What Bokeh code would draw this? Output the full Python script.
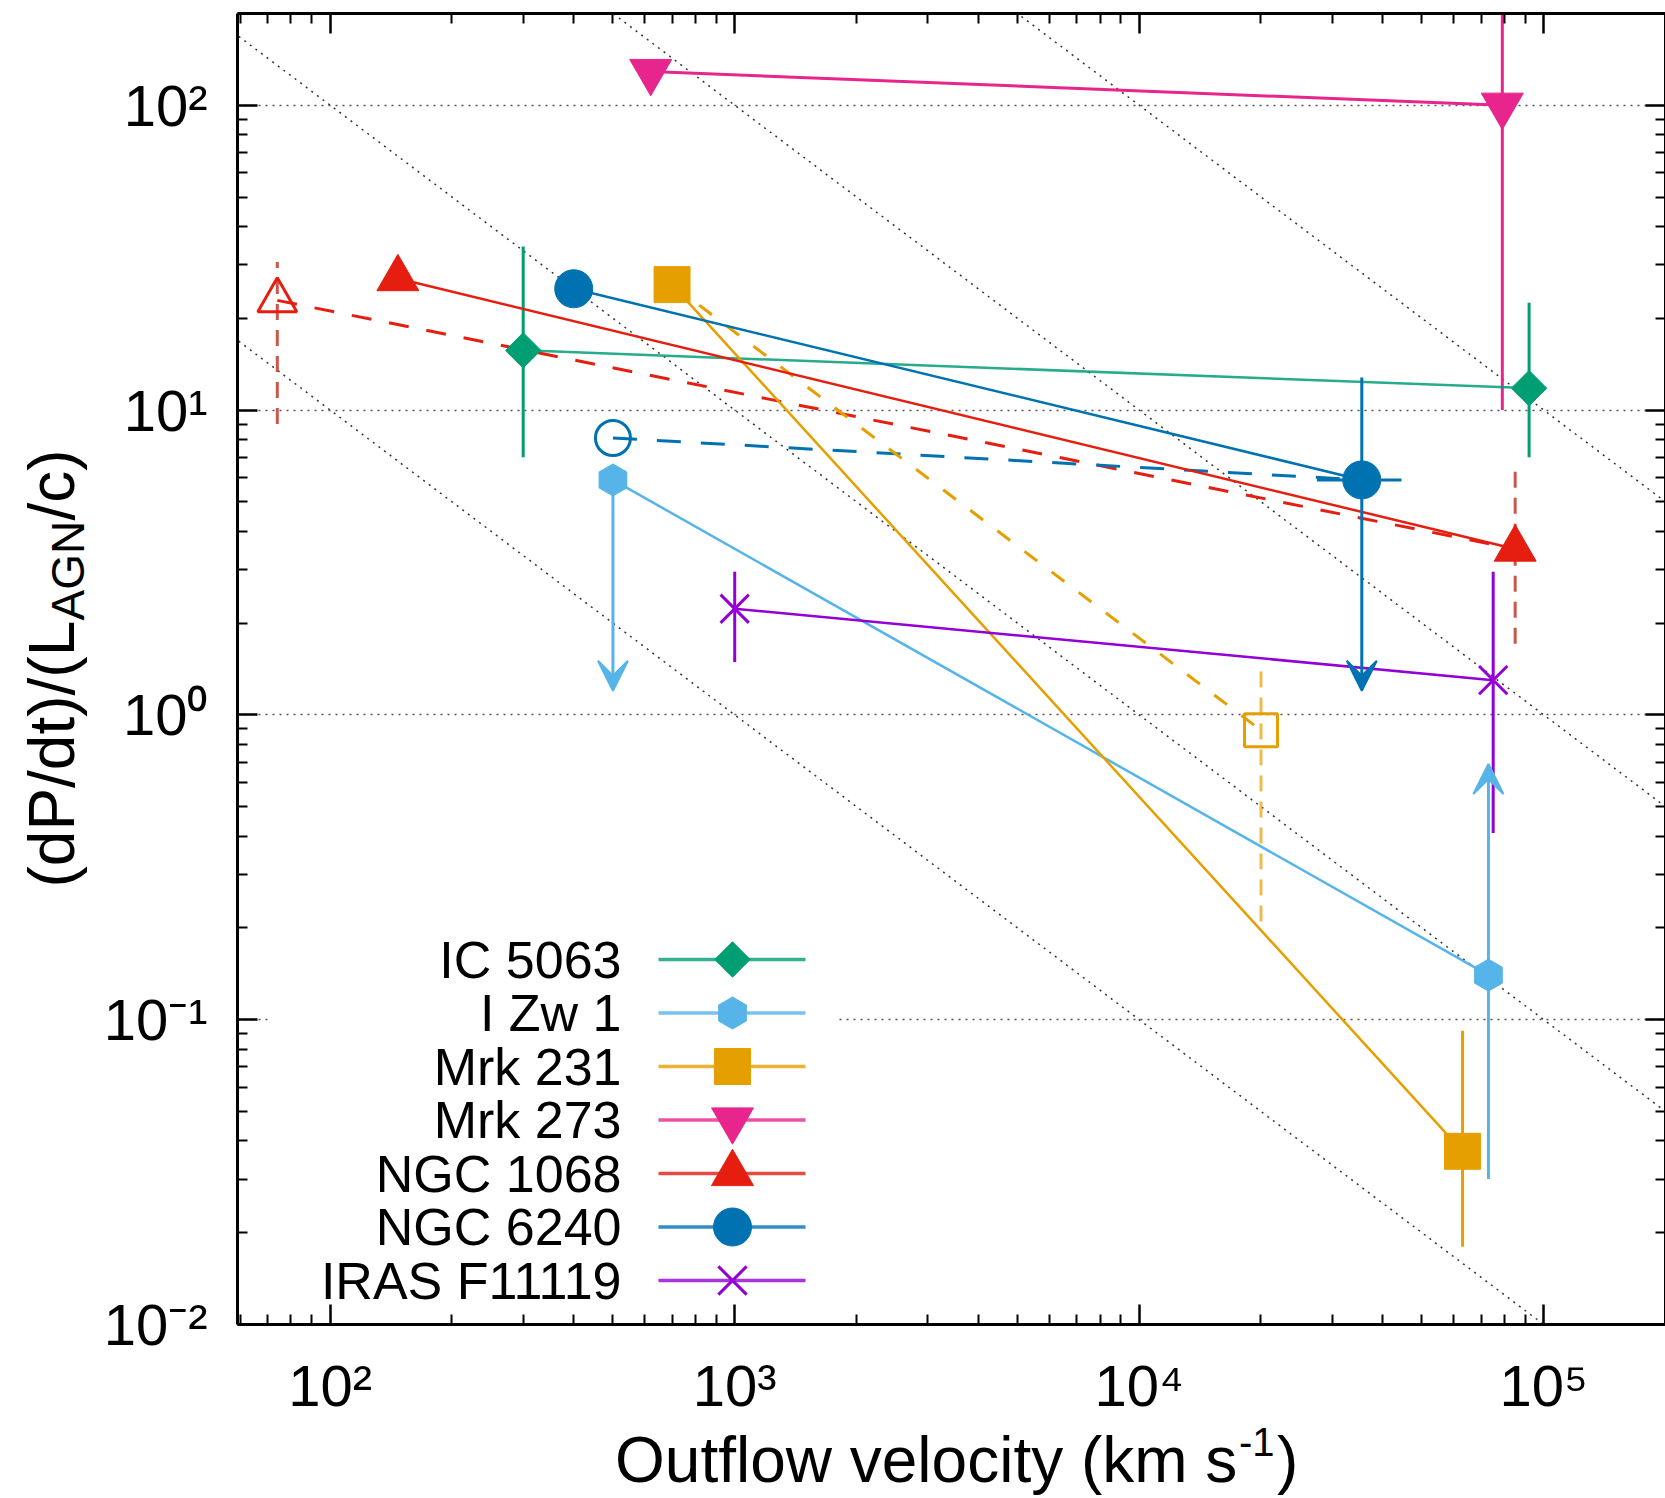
import numpy as np
from bokeh.plotting import figure
from bokeh.layouts import row, column
from bokeh.models import LogAxis, FixedTicker, Arrow, VeeHead, Range1d, Label
from bokeh.core.properties import value
from bokeh.embed import file_html
from bokeh.resources import INLINE

FONT = "Liberation Sans"

# ---------------------------------------------------------------- data
names = ["IC 5063", "I Zw 1", "Mrk 231", "Mrk 273", "NGC 1068", "NGC 6240", "IRAS F11119"]
colors = ["#009e73", "#56b4e9", "#e69f00", "#e8258c", "#e51e10", "#0072b2", "#9400d3"]
markers = ["diamond", "pentagon", "square", "inverted_triangle", "triangle", "circle", "x"]

# IC 5063
ic5063_v = [300, 92000]
ic5063_p = [15.7, 11.8]
ic5063_lo = [7.0, 7.0]
ic5063_hi = [34.4, 22.5]

# I Zw 1 (first point: upper limit, second point: lower limit)
izw1_v = [500, 73000]
izw1_p = [5.9, 0.14]
izw1_limit = [1.2, 0.69]
izw1_lo = [5.9, 0.030]

# Mrk 231
mrk231_v = [700, 63000]
mrk231_p = [25.8, 0.037]
mrk231_lo = [0.018]
mrk231_hi = [0.092]
mrk231_alt_v = [700, 20000]
mrk231_alt_p = [25.8, 0.89]
mrk231_alt_lo = [0.21]
mrk231_alt_hi = [1.41]

# Mrk 273
mrk273_v = [620, 79000]
mrk273_p = [129, 100]
mrk273_lo = [10.0]
mrk273_hi = [1000.0]

# NGC 1068
ngc1068_v = [147, 85000]
ngc1068_p = [27.0, 3.5]
ngc1068_alt_v = [74, 85000]
ngc1068_alt_p = [22.9, 3.5]
ngc1068_alt_lo = [9.0, 1.71]
ngc1068_alt_hi = [30.6, 6.7]

# NGC 6240
ngc6240_v = [400, 35500]
ngc6240_p = [25.0, 5.9]
ngc6240_hi = [12.8]
ngc6240_limit = [1.2]
ngc6240_vlo = [27500]
ngc6240_vhi = [44500]
ngc6240_alt_v = [500, 35500]
ngc6240_alt_p = [8.1, 5.9]

# IRAS F11119
iras_v = [1000, 75000]
iras_p = [2.23, 1.30]
iras_lo = [1.49, 0.41]
iras_hi = [2.95, 2.95]

# reference lines of constant (dP/dt)/(L/c) * v
line_levels = [1e3, 1e4, 1e5, 1e6]

# axes
x_major = [1e2, 1e3, 1e4, 1e5]
x_labels = ["10²", "10³", "10⁴", "10⁵"]
y_major = [1e-2, 1e-1, 1e0, 1e1, 1e2]
y_labels = ["10⁻²", "10⁻¹", "10⁰", "10¹", "10²"]

x_title = ["Outflow velocity (km s", "-1", ")"]
y_title = ["(dP/dt)/(L", "AGN", "/c)"]

# ---------------------------------------------------------------- layout (page pixels)
W, H = 1665, 1498
YLAB_W = 95                      # strip holding the y title
MAIN_H = 1420                    # main figure height, x title strip below
FRAME_L, FRAME_T, FRAME_W, FRAME_H = 237, 13, 1428, 1311
X_RANGE = (59, 2e5)
Y_RANGE = (0.01, 200)
MID = 0.3465                     # baseline to text middle, in em

xlo, xhi = np.log10(X_RANGE)
ylo, yhi = np.log10(Y_RANGE)


def data_x(px):
    return 10 ** (xlo + (px - FRAME_L) / FRAME_W * (xhi - xlo))


def data_y(py):
    return 10 ** (yhi - (py - FRAME_T) / FRAME_H * (yhi - ylo))


x_minor = [m * 10.0 ** e for e in range(1, 6) for m in range(2, 10)
           if X_RANGE[0] <= m * 10.0 ** e <= X_RANGE[1]]
y_minor = [m * 10.0 ** e for e in range(-2, 3) for m in range(2, 10)
           if m * 10.0 ** e <= Y_RANGE[1]]

p = figure(width=W - YLAB_W, height=MAIN_H, x_axis_type="log", y_axis_type="log",
           x_range=Range1d(*X_RANGE), y_range=Range1d(*Y_RANGE),
           output_backend="svg", toolbar_location=None,
           min_border_left=FRAME_L - YLAB_W, min_border_right=0,
           min_border_top=FRAME_T, min_border_bottom=MAIN_H - FRAME_T - FRAME_H,
           background_fill_color="white", border_fill_color="white")
p.outline_line_color = None

top_axis = LogAxis()
right_axis = LogAxis()
p.add_layout(top_axis, "above")
p.add_layout(right_axis, "right")


def style_axis(ax, ticks, minor, labels=None, standoff=0):
    ax.ticker = FixedTicker(ticks=ticks, minor_ticks=minor)
    ax.axis_line_width = 3
    ax.axis_line_color = "black"
    ax.major_tick_in = 20
    ax.major_tick_out = 0
    ax.minor_tick_in = 10
    ax.minor_tick_out = 0
    ax.major_tick_line_width = 2.5
    ax.minor_tick_line_width = 2
    ax.major_tick_line_color = "black"
    ax.minor_tick_line_color = "black"
    if labels is not None:
        ax.major_label_overrides = dict(zip(ticks, labels))
        ax.major_label_text_font = FONT
        ax.major_label_text_font_size = "58px"
        ax.major_label_text_color = "black"
        ax.major_label_standoff = standoff
    else:
        ax.major_label_overrides = {t: "" for t in ticks}
        ax.major_label_text_font_size = "0px"
        ax.major_label_standoff = 0


style_axis(p.below[0], x_major, x_minor, x_labels, standoff=28)
style_axis(p.left[0], y_major, y_minor, y_labels, standoff=30)
style_axis(top_axis, x_major, x_minor)
style_axis(right_axis, y_major, y_minor)

p.xgrid.visible = False
p.ygrid.grid_line_color = "#555555"
p.ygrid.grid_line_dash = "2 5"
p.ygrid.grid_line_width = 1.5

# ---------------------------------------------------------------- reference lines
diag_x = np.array([10.0, 1e6])
for k in line_levels:
    p.line(diag_x, k / diag_x, line_color="#333333", line_width=1.5, line_dash="2 5")

# ---------------------------------------------------------------- legend background
p.quad(left=[data_x(268)], right=[data_x(838)], top=[data_y(928)], bottom=[data_y(1308)],
       fill_color="white", line_color=None)

c_ic, c_izw, c_231, c_273, c_1068, c_6240, c_iras = colors

# ---------------------------------------------------------------- error bars
p.segment(x0=ic5063_v, x1=ic5063_v, y0=ic5063_lo, y1=ic5063_hi, line_color=c_ic, line_width=3)
p.segment(x0=mrk231_v[1:], x1=mrk231_v[1:], y0=mrk231_lo, y1=mrk231_hi, line_color=c_231, line_width=3)
p.segment(x0=mrk231_alt_v[1:], x1=mrk231_alt_v[1:], y0=mrk231_alt_lo, y1=mrk231_alt_hi,
          line_color=c_231, line_width=3, line_dash="16 10", line_alpha=0.7)
p.segment(x0=mrk273_v[1:], x1=mrk273_v[1:], y0=mrk273_lo, y1=mrk273_hi, line_color=c_273, line_width=3)
p.segment(x0=ngc1068_alt_v, x1=ngc1068_alt_v, y0=ngc1068_alt_lo, y1=ngc1068_alt_hi,
          line_color="#c0392b", line_width=3, line_dash="16 10", line_alpha=0.85)
p.segment(x0=ngc6240_vlo, x1=ngc6240_vhi, y0=ngc6240_p[1:], y1=ngc6240_p[1:],
          line_color=c_6240, line_width=3)
p.segment(x0=iras_v, x1=iras_v, y0=iras_lo, y1=iras_hi, line_color=c_iras, line_width=3)

# ---------------------------------------------------------------- connecting lines
p.line(ngc1068_alt_v, ngc1068_alt_p, line_color=c_1068, line_width=3, line_dash="20 18")
p.line(ngc6240_alt_v, ngc6240_alt_p, line_color=c_6240, line_width=3, line_dash="24 20")
p.line(mrk231_alt_v, mrk231_alt_p, line_color=c_231, line_width=3, line_dash="16 18")

p.line(ic5063_v, ic5063_p, line_color=c_ic, line_width=2.5, line_alpha=0.85)
p.line(izw1_v, izw1_p, line_color=c_izw, line_width=2.5)
p.line(mrk231_v, mrk231_p, line_color=c_231, line_width=2.5)
p.line(mrk273_v, mrk273_p, line_color=c_273, line_width=3)
p.line(ngc1068_v, ngc1068_p, line_color=c_1068, line_width=2.5)
p.line(ngc6240_v, ngc6240_p, line_color=c_6240, line_width=2.5)
p.line(iras_v, iras_p, line_color=c_iras, line_width=2.5)

# ---------------------------------------------------------------- markers
MARKER_STYLE = {
    "diamond": dict(marker="square", angle=np.pi / 4, size=25),
    "pentagon": dict(marker="hex", angle=np.pi / 2, size=32),
    "square": dict(marker="square", angle=0.0, size=36),
    "inverted_triangle": dict(marker="inverted_triangle", angle=0.0, size=42),
    "triangle": dict(marker="triangle", angle=0.0, size=42),
    "circle": dict(marker="circle", angle=0.0, size=38),
    "x": dict(marker="x", angle=0.0, size=40),
}


def draw_points(xs, ys, kind, color, filled=True):
    st = MARKER_STYLE[kind]
    if filled:
        p.scatter(xs, ys, marker=st["marker"], angle=st["angle"], size=st["size"],
                  fill_color=color, line_color=color, line_width=3 if kind == "x" else 1)
    else:
        p.scatter(xs, ys, marker=st["marker"], angle=st["angle"], size=st["size"] - 3,
                  fill_color=None, line_color=color, line_width=3)


# open markers of the alternative estimates
draw_points(ngc1068_alt_v[:1], ngc1068_alt_p[:1], "triangle", c_1068, filled=False)
draw_points(ngc6240_alt_v[:1], ngc6240_alt_p[:1], "circle", c_6240, filled=False)
draw_points(mrk231_alt_v[1:], mrk231_alt_p[1:], "square", c_231, filled=False)

series = [
    (ic5063_v, ic5063_p), (izw1_v, izw1_p), (mrk231_v, mrk231_p), (mrk273_v, mrk273_p),
    (ngc1068_v, ngc1068_p), (ngc6240_v, ngc6240_p), (iras_v, iras_p),
]
for (xs, ys), kind, color in zip(series, markers, colors):
    draw_points(xs, ys, kind, color)

# ---------------------------------------------------------------- limit arrows
p.add_layout(Arrow(x_start=izw1_v[0], y_start=izw1_lo[0], x_end=izw1_v[0], y_end=izw1_limit[0],
                   line_color=c_izw, line_width=3,
                   end=VeeHead(size=30, fill_color=c_izw, line_color=c_izw, line_width=2)))
p.add_layout(Arrow(x_start=izw1_v[1], y_start=izw1_lo[1], x_end=izw1_v[1], y_end=izw1_limit[1],
                   line_color=c_izw, line_width=3,
                   end=VeeHead(size=30, fill_color=c_izw, line_color=c_izw, line_width=2)))
p.add_layout(Arrow(x_start=ngc6240_v[1], y_start=ngc6240_hi[0], x_end=ngc6240_v[1],
                   y_end=ngc6240_limit[0], line_color=c_6240, line_width=3,
                   end=VeeHead(size=30, fill_color=c_6240, line_color=c_6240, line_width=2)))

# ---------------------------------------------------------------- legend (labels left of samples)
row_px = [959 + 53.5 * i for i in range(len(names))]
row_y = [data_y(r) for r in row_px]
p.text(x=[data_x(621)] * len(names), y=row_y, text=names,
       text_align="right", text_baseline="middle",
       text_font=value(FONT), text_font_size="52px", text_color="black")
p.segment(x0=[data_x(658)] * len(names), x1=[data_x(805)] * len(names), y0=row_y, y1=row_y,
          line_color=colors, line_width=3.5, line_alpha=0.8)
for yy, kind, color in zip(row_y, markers, colors):
    draw_points([data_x(732)], [yy], kind, color)


# ---------------------------------------------------------------- title strips
def text_strip(width, height, x_range, y_range, **borders):
    f = figure(width=width, height=height, x_range=Range1d(*x_range), y_range=Range1d(*y_range),
               output_backend="svg", toolbar_location=None,
               x_axis_location=None, y_axis_location=None,
               min_border=0, background_fill_color="white", border_fill_color="white",
               **borders)
    f.grid.visible = False
    f.outline_line_color = None
    return f


def title_piece(fig, x, y, text, size_px, angle=0.0):
    fig.add_layout(Label(x=x, y=y, text=text, angle=angle,
                         text_font=FONT, text_font_size=f"{size_px}px", text_color="black",
                         text_align="left", text_baseline="middle"))


# y title strip: frame spans page y 13..1498, data y = H - page_y, data x = page x
ylab = text_strip(YLAB_W, H, (0, YLAB_W), (0, H - FRAME_T), min_border_top=FRAME_T)
YL_BASE = 74          # page x of the baseline
y_start = 887         # page y where the title begins (reads upward)
title_piece(ylab, YL_BASE - MID * 64, H - y_start, y_title[0], 64, np.pi / 2)
title_piece(ylab, YL_BASE + 9 - MID * 46, H - (y_start - 267), y_title[1], 46, np.pi / 2)
title_piece(ylab, YL_BASE - MID * 64, H - (y_start - 367), y_title[2], 64, np.pi / 2)

# x title strip: frame spans page x 237..1665 (same as the main frame), data x = page x
XLAB_H = H - MAIN_H
xlab = text_strip(W - YLAB_W, XLAB_H, (FRAME_L, W), (0, XLAB_H),
                  min_border_left=FRAME_L - YLAB_W)
XL_BASE = 1482        # page y of the baseline
x_start = 614.5       # page x where the title begins
title_piece(xlab, x_start, H - XL_BASE + MID * 64, x_title[0], 64)
title_piece(xlab, x_start + 624, H - (XL_BASE - 27) + MID * 40, x_title[1], 40)
title_piece(xlab, x_start + 662, H - XL_BASE + MID * 64, x_title[2], 64)

layout = row(ylab, column(p, xlab, spacing=0), spacing=0)
open("out.html", "w").write(file_html(layout, INLINE))
